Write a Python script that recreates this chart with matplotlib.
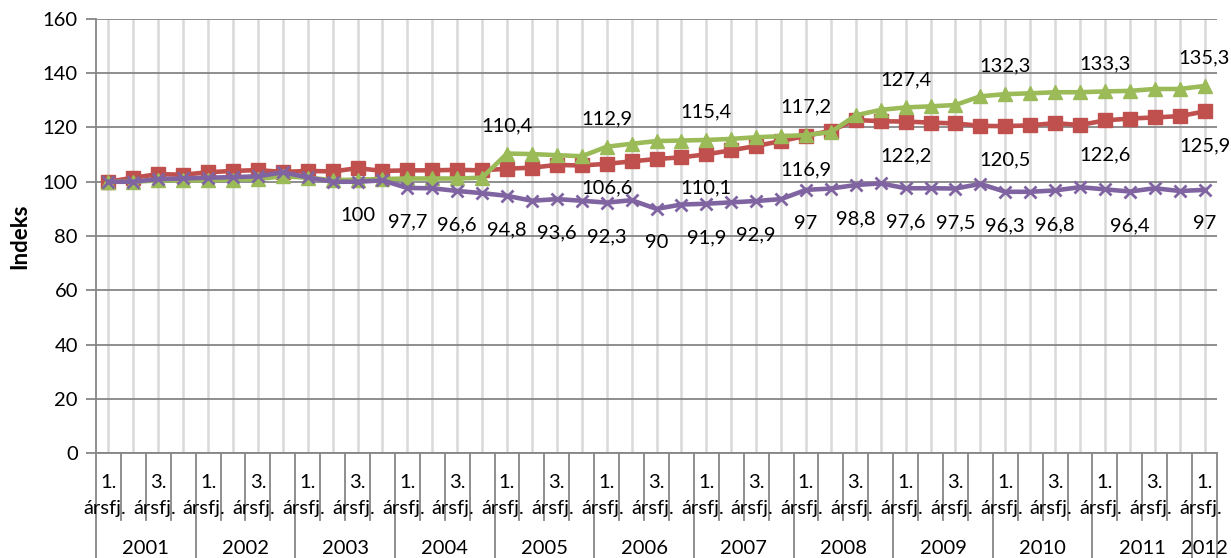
import matplotlib
matplotlib.use("Agg")
import matplotlib.pyplot as plt
from matplotlib.lines import Line2D
import numpy as np

plt.rcParams['font.family'] = ['Lato', 'DejaVu Sans']

# quarterly index, 2001 Q1 .. 2012 Q1
years = ['2001', '2002', '2003', '2004', '2005', '2006',
         '2007', '2008', '2009', '2010', '2011', '2012']
quarters_per_year = [4, 4, 4, 4, 4, 4, 4, 4, 4, 4, 4, 1]
quarter_numbers = ['1.', '', '3.', '']
quarter_word = 'ársfj.'

red = [100.0, 101.5, 102.8, 102.6, 103.5, 104.0, 104.3, 103.6, 104.0, 103.8,
       105.0, 104.0, 104.2, 104.2, 104.4, 104.2, 104.8, 105.2, 106.2, 106.0,
       106.6, 107.5, 108.4, 109.0, 110.1, 111.6, 113.2, 115.0, 116.9, 118.8,
       122.8, 122.3, 122.2, 121.8, 121.5, 120.6, 120.5, 120.8, 121.6, 120.9,
       122.6, 123.3, 123.7, 124.2, 125.9]
green = [100.0, 100.0, 100.5, 100.5, 100.5, 100.8, 101.0, 102.0, 101.5, 100.6,
         100.8, 101.0, 101.2, 101.2, 101.2, 101.5, 110.4, 110.2, 109.8, 109.4,
         112.9, 114.0, 115.0, 115.2, 115.4, 115.8, 116.4, 116.8, 117.2, 118.3,
         124.5, 126.5, 127.4, 127.8, 128.3, 131.5, 132.3, 132.6, 133.0, 133.0,
         133.3, 133.5, 134.2, 134.2, 135.3]
purple = [100.0, 100.0, 101.0, 101.2, 101.5, 101.7, 102.0, 103.5, 101.6, 100.0,
          100.0, 100.5, 97.7, 97.6, 96.6, 95.8, 94.8, 93.0, 93.6, 93.0,
          92.3, 93.2, 90.0, 91.6, 91.9, 92.4, 92.9, 93.6, 97.0, 97.5,
          98.8, 99.4, 97.6, 97.6, 97.5, 99.2, 96.3, 96.3, 96.8, 98.0,
          97.2, 96.4, 97.6, 96.6, 97.0]

# which points carry a data label
red_labelled = [20, 24, 28, 32, 36, 40, 44]
green_labelled = [16, 20, 24, 28, 32, 36, 40, 44]
purple_labelled = [10, 12, 14, 16, 18, 20, 22, 24, 26, 28, 30, 32, 34, 36, 38, 41, 44]

FS = 14.5
n = len(red)
x = np.arange(n) + 0.5

fig = plt.figure(figsize=(12.31, 5.58), dpi=100)
ax = fig.add_axes([96 / 1231, 105 / 558, 1121 / 1231, 434 / 558])

ax.plot(x, red, color='#C0504D', lw=3.3, marker='s', ms=9.5, zorder=3)
ax.plot(x, green, color='#9BBB59', lw=3.3, marker='^', ms=10.5, zorder=4)
ax.plot(x, purple, color='#8064A2', lw=3.3, marker='x', ms=9, mew=2, zorder=5)


def fmt(v):
    s = f'{v:.1f}'.rstrip('0').rstrip('.')
    return s.replace('.', ',')


for i in red_labelled:
    dy = -24 if i == 20 else -34
    ax.annotate(fmt(red[i]), (x[i], red[i]), xytext=(0, dy), textcoords='offset pixels',
                ha='center', va='center', fontsize=FS, zorder=6)
for i in green_labelled:
    ax.annotate(fmt(green[i]), (x[i], green[i]), xytext=(0, 28), textcoords='offset pixels',
                ha='center', va='center', fontsize=FS, zorder=6)
for i in purple_labelled:
    ax.annotate(fmt(purple[i]), (x[i], purple[i]), xytext=(0, -34), textcoords='offset pixels',
                ha='center', va='center', fontsize=FS, zorder=6)

ax.set_xlim(0, n)
ax.set_ylim(0, 160)
ax.set_yticks(range(0, 161, 20))
ax.tick_params(axis='y', length=7, width=1.3, color='#868686', labelsize=FS, pad=6)
ax.set_xticks(x)
ax.set_xticklabels([])
ax.tick_params(axis='x', length=0)
ax.grid(axis='y', color='#868686', lw=1.3, zorder=0)
ax.grid(axis='x', color='#D9D9D9', lw=1.8, zorder=0)
ax.set_axisbelow(True)
for side in ['top', 'right']:
    ax.spines[side].set_visible(False)
for side in ['left', 'bottom']:
    ax.spines[side].set_color('#868686')
    ax.spines[side].set_linewidth(1.3)

ax.set_ylabel('Indeks', fontsize=16, fontweight='bold', labelpad=9)

# two-level category axis drawn below the plot
tr = ax.get_xaxis_transform()
line_kw = dict(transform=tr, color='#868686', lw=1.3, clip_on=False)
start = 0
for year, nq in zip(years, quarters_per_year):
    for q in range(nq):
        pos = start + q
        if q > 0:
            ax.add_line(Line2D([pos, pos], [0, -0.154], **line_kw))
        if quarter_numbers[q]:
            ax.text(pos + 0.5, -0.067, quarter_numbers[q], transform=tr, ha='center',
                    va='center', fontsize=FS)
            ax.annotate(quarter_word, (pos + 0.5, -0.127), xycoords=tr, xytext=(-4, 0),
                        textcoords='offset pixels', ha='center', va='center', fontsize=FS)
    ax.add_line(Line2D([start, start], [0, -0.245], **line_kw))
    ax.text(start + nq / 2, -0.219, year, transform=tr, ha='center', va='center',
            fontsize=FS)
    start += nq
ax.add_line(Line2D([start, start], [0, -0.245], **line_kw))

fig.savefig('out.png', dpi=100)
